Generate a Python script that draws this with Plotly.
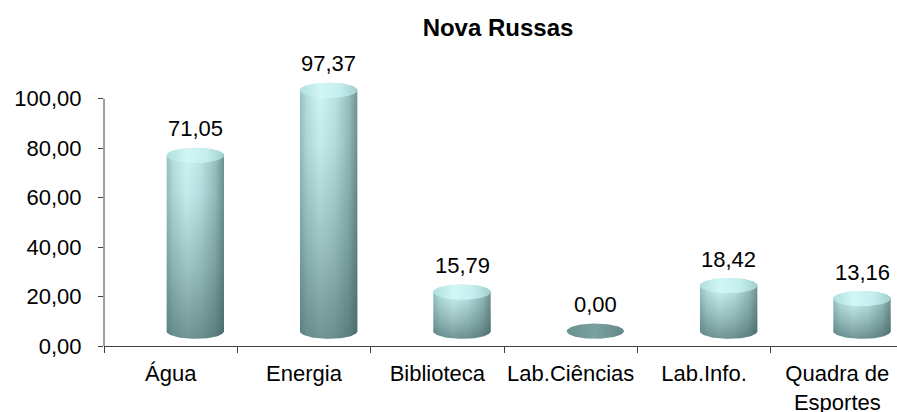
import numpy as np
import plotly.graph_objects as go

# ---- data ----
categories = ["Água", "Energia", "Biblioteca", "Lab.Ciências", "Lab.Info.", "Quadra de<br>Esportes"]
values = [71.05, 97.37, 15.79, 0.00, 18.42, 13.16]
y_ticks = [0, 20, 40, 60, 80, 100]
title_text = "Nova Russas"

# ---- style (3D cylinder look) ----
FLOOR = 6.0      # apparent floor lift of the 3D projection (y units)
SHIFT = 0.185    # perspective shift of cylinders to the right (category units)
HALF_W = 0.215   # cylinder half width (category units)
RY = 3.1         # ellipse half height (y units)
FONT = "Arial, Liberation Sans, sans-serif"
AX = "#404040"

body_scale = [[0.0, "#98c2c2"], [0.12, "#b5e0e0"], [0.35, "#d0f6f6"],
              [0.6, "#bde6e6"], [0.85, "#98c0c0"], [1.0, "#6f9292"]]
shade_scale = [[0.0, "rgba(45,78,78,0.58)"], [0.35, "rgba(45,78,78,0.32)"],
               [0.75, "rgba(45,78,78,0.07)"], [1.0, "rgba(45,78,78,0.0)"]]
cap_scale = [[0.0, "#afdfdf"], [0.35, "#d2f6f6"], [0.7, "#c4eeee"], [1.0, "#a2cfcf"]]
flat_scale = [[0.0, "#6a9090"], [0.5, "#7aa0a0"], [1.0, "#648888"]]

fig = go.Figure()

t = np.linspace(0, np.pi, 50)
s = np.linspace(0, 2 * np.pi, 100)
for i, v in enumerate(values):
    cx = i + SHIFT
    yb = FLOOR
    yt = FLOOR + v
    if v > 0:
        bx = np.concatenate([cx - HALF_W * np.cos(t), cx + HALF_W * np.cos(t)])
        by = np.concatenate([yt + RY * np.sin(t), yb - RY * np.sin(t)])
        fig.add_trace(go.Scatter(x=bx, y=by, mode="lines", line=dict(width=0),
                                 fill="toself",
                                 fillgradient=dict(type="horizontal", colorscale=body_scale),
                                 hoverinfo="skip", showlegend=False))
        fig.add_trace(go.Scatter(x=bx, y=by, mode="lines", line=dict(width=0),
                                 fill="toself",
                                 fillgradient=dict(type="vertical", colorscale=shade_scale),
                                 hoverinfo="skip", showlegend=False))
    cx_e = cx + HALF_W * np.cos(s)
    cy_e = yt + RY * np.sin(s)
    fig.add_trace(go.Scatter(x=cx_e, y=cy_e, mode="lines", line=dict(width=0),
                             fill="toself",
                             fillgradient=dict(type="horizontal",
                                               colorscale=cap_scale if v > 0 else flat_scale),
                             hoverinfo="skip", showlegend=False))
    fig.add_annotation(x=cx, y=yt, text=f"{v:.2f}".replace(".", ","),
                       showarrow=False, yanchor="bottom", yshift=12,
                       font=dict(family=FONT, size=22, color="#000000"))

fig.add_shape(type="line", xref="paper", x0=0, x1=0, yref="y", y0=0, y1=100,
              line=dict(color=AX, width=1))

fig.update_layout(
    width=897, height=412,
    margin=dict(l=104, r=0, t=74, b=66, autoexpand=False),
    paper_bgcolor="#ffffff", plot_bgcolor="#ffffff",
    separators=",.",
    font=dict(family=FONT, size=22, color="#000000"),
    title=dict(text=f"<b>{title_text}</b>", x=498 / 897, xanchor="center",
               xref="container", y=1 - 28 / 412, yref="container", yanchor="middle",
               font=dict(family=FONT, size=24, color="#000000")),
    xaxis=dict(range=[-0.5, 5.4475], tickmode="array", tickvals=list(range(len(categories))),
               ticktext=categories, ticks="", showline=True, linecolor=AX, linewidth=1,
               showgrid=False, zeroline=False, ticklabelstandoff=8, automargin=False,
               minor=dict(tickmode="linear", tick0=-0.5, dtick=1, ticks="outside",
                          ticklen=6, tickcolor=AX, tickwidth=1, showgrid=False),
               tickfont=dict(family=FONT, size=22, color="#000000")),
    yaxis=dict(range=[0, 110], tickmode="array", tickvals=y_ticks, tickformat=".2f",
               ticks="outside", ticklen=5, tickcolor=AX, tickwidth=1, automargin=False,
               showline=False, showgrid=False, zeroline=False, ticklabelstandoff=12,
               tickfont=dict(family=FONT, size=22, color="#000000")),
)

fig.write_html("out.html", config={"displayModeBar": False},
               post_script="document.body.style.margin='0';document.body.style.overflow='hidden';")
